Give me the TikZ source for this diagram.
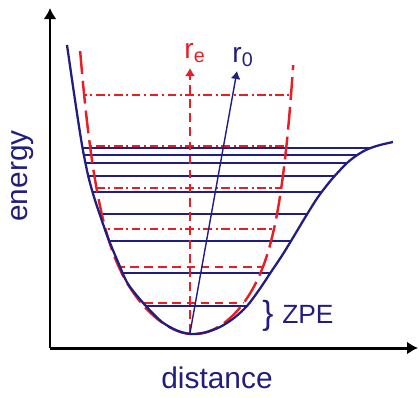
\documentclass[tikz,border=0pt]{standalone}
\usepackage{fontspec}
\setmainfont{Liberation Sans}
\usetikzlibrary{arrows.meta}
\definecolor{deepblue}{RGB}{34,30,128}
\definecolor{brightred}{RGB}{232,30,38}

\begin{document}
\begin{tikzpicture}[
  x=0.02cm,y=-0.02cm,
  every node/.style={text=deepblue,inner sep=0pt},
  lbl/.style={font=\fontsize{17}{19}\selectfont},
  rlbl/.style={anchor=base,font=\fontsize{16}{18}\selectfont},
  axis/.style={line width=1.7pt,-{Latex[length=2.2mm,width=2.6mm]}},
  morse/.style={draw=deepblue,line width=1.3pt},
  harm/.style={draw=brightred,line width=1.4pt,dash pattern=on 13pt off 4pt},
  vlevel/.style={draw=deepblue,line width=0.9pt},
  hlevel/.style={draw=brightred,line width=1pt,dash pattern=on 5pt off 2pt on 1.2pt off 2pt},
  hlow/.style={draw=brightred,line width=1pt,dash pattern=on 5pt off 3pt},
  bond/.style={line width=0.8pt,-{Latex[length=1.6mm,width=2mm]}}
]
\useasboundingbox (0,0) rectangle (419,397);
\coordinate (O) at (50,348);
\coordinate (ytop) at (50,8);
\coordinate (xend) at (418,348);
\coordinate (bottom) at (190,333);
\coordinate (reTip) at (190,68);
\coordinate (rzTip) at (237,71);
\path[save path=\morsepath] plot[smooth] coordinates {(67,45) (75,100) (82,145) (88,175) (94,197) (101,218) (108,238) (118,262) (128,284) (145,305) (162,322) (178,331) (191,334) (205,332.5) (220,327) (234,318) (247,306) (259,290) (271,272) (283,254) (294,236) (306,216) (318,197) (332,179) (347,163) (358,154.5) (368,149) (380,145) (393,142)};
\path[save path=\harmpath] plot[domain=-1.07:1.06,samples=90] ({188+100*\x+6*(1-\x*\x)},{334-117*\x*\x-86.7*(\x*\x)^4});
\begin{scope}
\clip[use path=\harmpath];
\draw[hlevel] (60,95) -- (400,95);
\draw[hlevel] (60,146) -- (400,146);
\draw[hlevel] (60,188) -- (400,188);
\draw[hlevel] (60,229) -- (400,229);
\draw[hlow] (60,267) -- (400,267);
\draw[hlow] (60,303) -- (400,303);
\end{scope}
\begin{scope}
\clip[use path=\morsepath];
\draw[vlevel] (60,148) -- (400,148);
\draw[vlevel] (60,155) -- (400,155);
\draw[vlevel] (60,163) -- (400,163);
\draw[vlevel] (60,176) -- (400,176);
\draw[vlevel] (60,192) -- (400,192);
\draw[vlevel] (60,214) -- (400,214);
\draw[vlevel] (60,241) -- (400,241);
\draw[vlevel] (60,273) -- (400,273);
\draw[vlevel] (60,306) -- (400,306);
\end{scope}
\draw[harm,use path=\harmpath];
\draw[morse,use path=\morsepath];
\draw[bond,brightred,dash pattern=on 5pt off 3pt] (bottom) -- (reTip);
\draw[bond,deepblue] (bottom) -- (rzTip);
\node[rlbl,text=brightred] (re) at (195,58) {r\textsubscript{e}};
\node[rlbl] (rz) at (243,62) {r\textsubscript{0}};
\node[anchor=base west,font=\fontsize{15}{17}\selectfont] (zpe) at (262,323) {\raisebox{-1pt}{\fontsize{19}{21}\selectfont\}}\hspace{5pt}ZPE};
\draw[axis] (O) -- (ytop);
\draw[axis] (O) -- (xend);
\node[lbl,rotate=90] (ylab) at (23,176) {energy};
\node[lbl] (xlab) at (217,378) {distance};
\end{tikzpicture}
\end{document}
